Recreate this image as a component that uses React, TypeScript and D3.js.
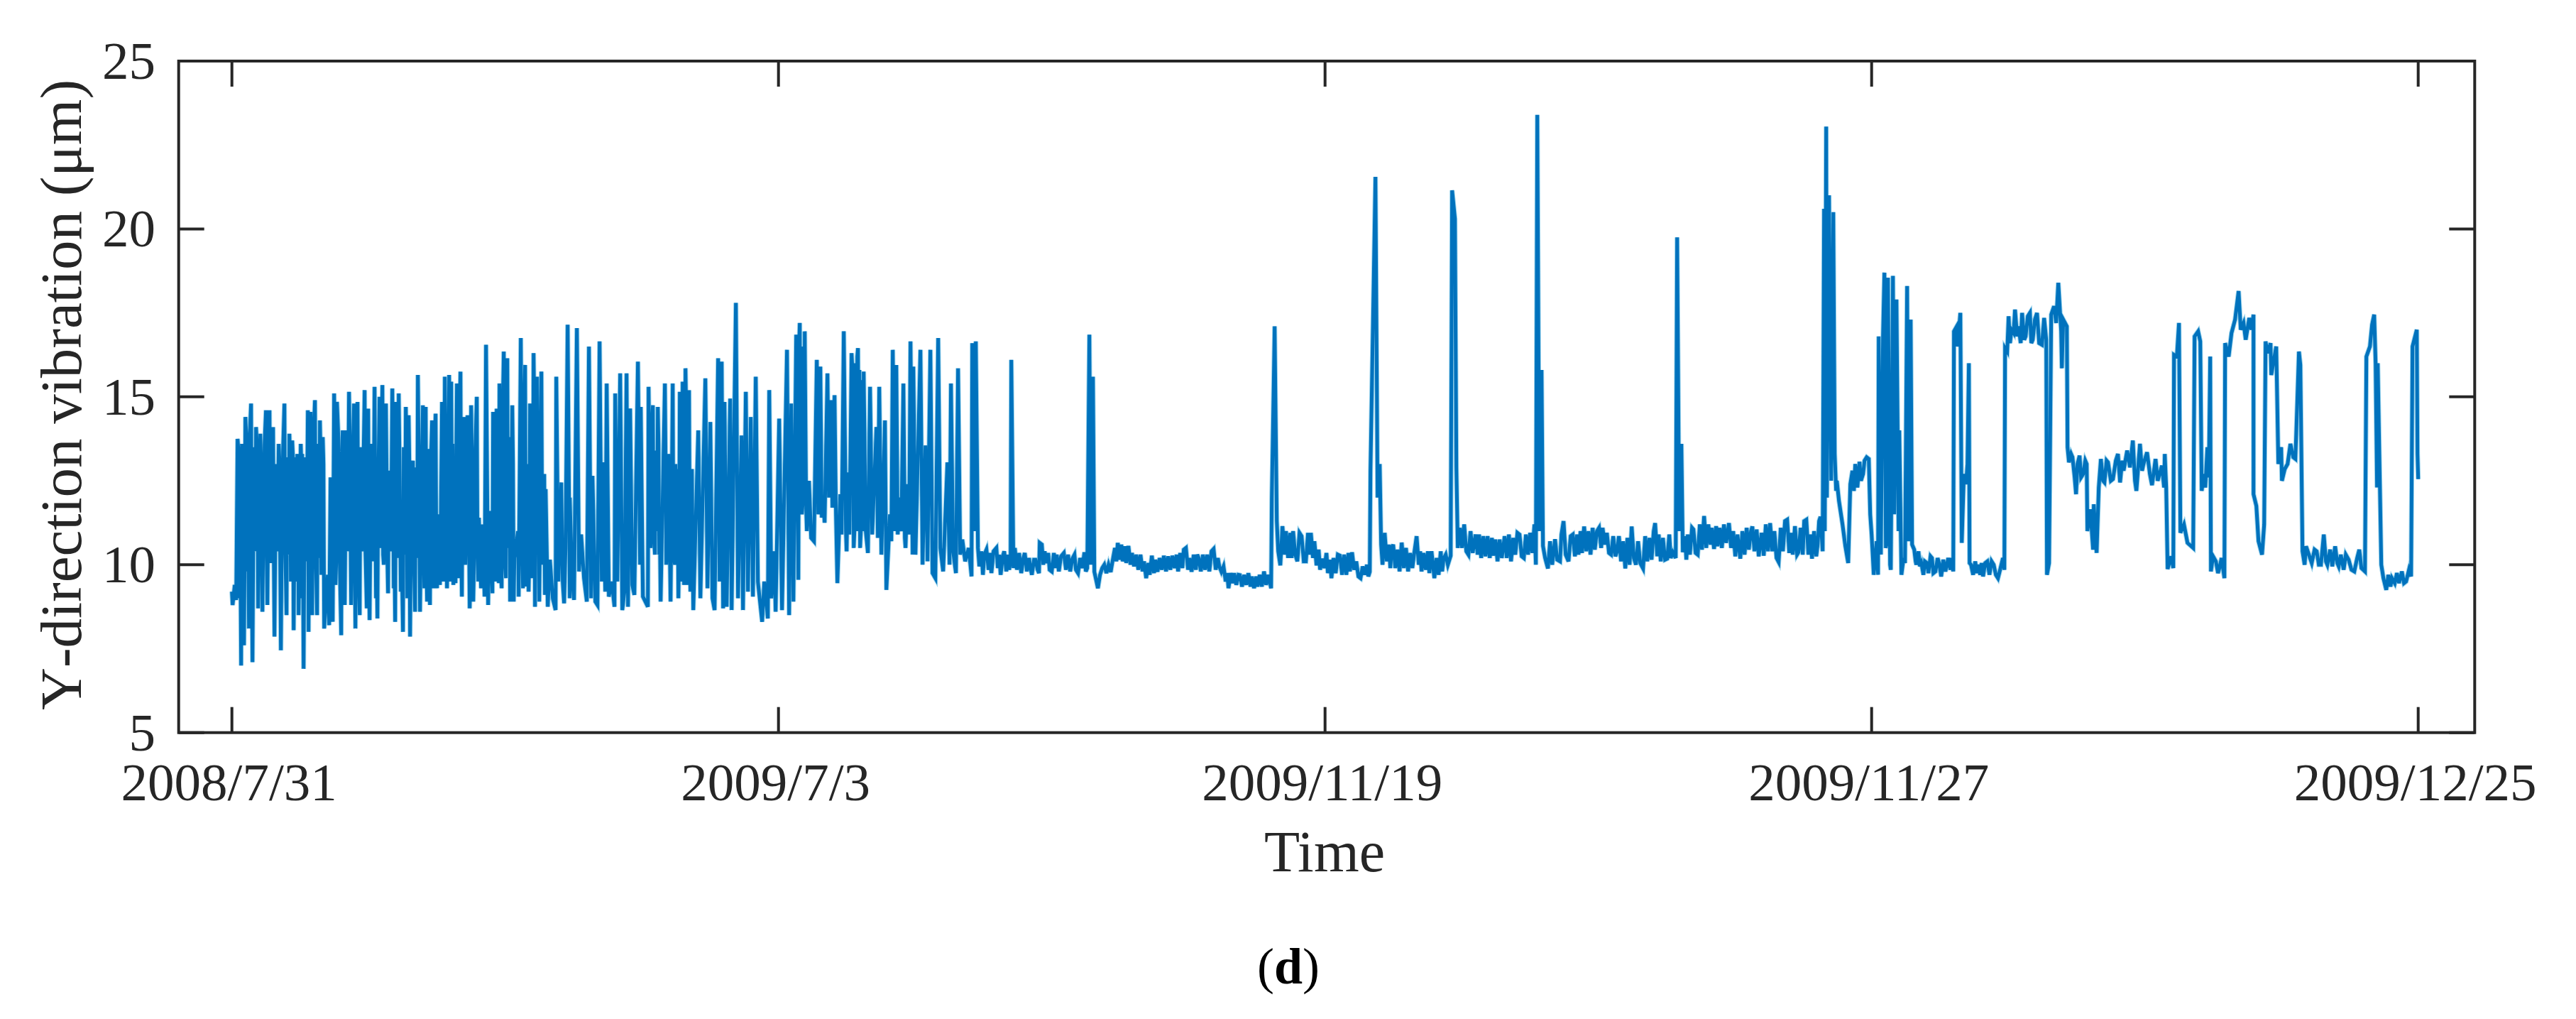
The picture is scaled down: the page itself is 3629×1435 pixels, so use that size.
import * as React from "react";
import { line, range, scaleLinear, sort } from "d3";

type P = [number, number];

// [sample, vibration in um]
const burstsEarly: P[] = [
  [0,9.2],[1,8.8],[4,9.4],[6,8.95],[8,13.75],[11,9],[13,7],[14,13.6],[17,7.6],[19,14.4],[22,9.8],[24,8.1],[27,14.8],[29,7.1],[34,14.1],[37,8.7],[40,13.9],[43,8.6],[48,14.6],[50,8.8],[53,14.6],[55,10.05],[58,14.1],[60,7.86],[66,13.6],[69,7.45],[74,14.8],[77,8.5],[81,13.9],[83,9.5],[85,13.7],[87,8.05],[90,13.2],[91,9.5],[92,13.3],[94,8.5],[97,13.6],[99,9],[99,13.3],[101,6.9],[107,14.6],[108,8],[111,14.55],[113,8.5],[117,14.9],[120,8.5],[124,14.3],[126,9.7],[128,13.8],[130,8.1],[135,9.7],[137,8.2],[139,12.6],[142,8.3],[144,15.1],[146,9.4],[148,14.85],[154,7.9],[156,14],[159,8.8],[165,15.15],[168,8.8],[172,14.8],[174,8.1],[177,14.85],[180,8.5],[187,15.2],[190,8.7],[192,14.65],[194,8.35],[201,15.3],[203,9],[205,8.4],[208,15],[212,15.35],[214,10],[217,14.8],[220,9.15],[226,15.25],[228,9.3],[230,8.3],[231,14.85],[235,15.1],[238,9.2],[241,8],[245,14.7],[247,9],[249,14.45],[251,7.86],[255,13.1],[258,8.6],[262,15.65],[265,8.6],[269,14.75],[271,9.3],[273,14.7],[275,8.9],[277,13.45],[279,8.8],[282,14.3],[284,9.3],[287,14.5],[289,9.3],[292,10.65],[293,9.4],[296,14.85],[298,9.5],[300,15.6],[303,9.3],[306,15.65],[308,9.5],[309,15.45],[312,9.4],[313,10.65],[315,9.45],[317,15.4],[319,9.6],[322,15.75],[324,9.05],[327,14.4],[329,10],[332,14.45],[335,8.7],[337,14.75],[340,8.9],[345,15],[347,9.5],[348,11.4],[351,9.3],[353,11.2],[356,9.05],[358,16.55],[361,8.8],[363,11.6],[367,9.15],[368,14.55],[371,9.5],[373,14.65],[376,9.45],[377,15.4],[380,9.3],[383,16.35],[386,9.6],[388,16.15],[392,8.9],
];
const burstsMiddle: P[] = [
  [395,14.75],[397,8.9],[404,9.05],[407,16.75],[410,9.3],[413,15.95],[415,9.35],[418,9.2],[420,14.8],[423,9.6],[425,16.3],[427,8.75],[430,15.6],[433,8.9],[436,15.75],[438,10],[440,12.7],[441,9.1],[442,12.25],[445,8.75],[448,10.15],[452,9],[456,8.65],[457,15.6],[460,9.5],[464,12.45],[466,9.5],[468,8.85],[470,10.5],[473,17.15],[476,9],[476,12],[479,9.8],[482,8.95],[486,17.05],[489,9.8],[492,10.9],[496,9.6],[500,8.9],[503,16.5],[506,9],[508,12.65],[512,8.9],[515,8.8],[518,16.65],[521,9.5],[523,13.05],[526,9.2],[528,15.4],[531,9.05],[535,9.5],[539,8.75],[540,15.1],[543,9.5],[547,15.7],[550,8.65],[553,9.2],[556,15.7],[558,8.75],[561,14.65],[564,9.4],[567,9.1],[572,16.05],[575,10],[576,14.7],[579,9.05],[586,8.75],[587,15.3],[590,10.5],[593,14.75],[596,10.3],[600,14.7],[602,10.3],[604,8.9],[610,15.4],[612,10],[615,13.3],[618,8.9],[621,15.4],[624,10],[627,12.85],[629,9],[631,15.15],[633,9.5],[635,15.45],[637,9.4],[639,15.85],[641,9.4],[644,15.2],[646,9.2],[648,12.85],[650,8.65],[657,14],[660,9],[667,15.55],[670,9.3],[674,14.25],[677,9],[680,8.65],[685,16.15],[687,9.5],[690,16.05],[692,8.7],[694,14.85],[697,8.75],[702,14.95],[704,8.65],[710,17.8],[713,9],[718,13.85],[720,8.65],[724,15.15],[727,9.2],[731,14.4],[734,9.05],[738,15.6],[741,9.5],[747,8.3],[750,9.5],[755,8.4],[757,15.2],[760,9],[764,10.4],[766,8.6],[771,14.35],[775,8.65],
];
const burstsLate: P[] = [
  [782,16.4],[785,8.5],[788,14.8],[791,8.9],[795,16.85],[798,9.55],[800,17.2],[803,11.5],[807,16.95],[809,11.65],[810,11],[813,12.5],[816,10.8],[820,10.7],[824,16.1],[826,11.5],[829,15.9],[831,11.4],[833,12],[835,11.25],[839,15.7],[841,12],[844,14.9],[846,11.7],[849,15.05],[851,11.5],[853,9.45],[857,12.1],[859,10.9],[862,16.95],[865,11],[866,10.4],[868,12.75],[870,10.9],[873,16.3],[876,10.5],[882,16.45],[885,10.5],[890,15.75],[893,11],[896,10.35],[899,15.3],[902,10.9],[908,14.1],[910,10.8],[912,15.3],[915,10.3],[920,14.3],[922,9.25],[927,11.5],[929,10.7],[931,16.4],[934,11],[936,15.95],[938,10.9],[940,12],[943,11],[946,15.4],[948,10.8],[949,10.5],[952,12.4],[954,10.9],[956,16.65],[959,10.3],[960,15.9],[963,10.3],[970,16.4],[973,10],[977,13.55],[980,10.1],[984,16.4],[987,9.75],[991,9.6],[995,16.75],[998,10.5],[1002,9.8],[1008,13.05],[1011,10],[1013,15.4],[1016,10.4],[1020,9.75],[1023,15.85],[1026,10.3],[1029,10.75],[1033,10.1],[1038,10.5],[1042,9.65],[1043,16.6],[1046,11],[1048,16.65],[1051,10.5],[1053,9.95],
];
// swings inside the solid part of the bursts, between the peaks listed above
const burstsCore: P[] = [
  [10,13.2],[12,10.3],[15,13.4],[18,10.2],[21,13.6],[23,10.5],[25,13.8],[28,10.1],[31,13.5],[33,10.4],[36,13.3],[38,10.6],[41,13.2],[44,10.3],[46,13.6],[49,10.2],[52,13.7],[54,10.9],[56,13.4],[59,10.3],[62,13],[64,10.4],[67,13.1],[70,10],[72,13.4],[75,10.5],[78,13.2],[80,10.3],[82,13.1],[84,10.2],[86,13.2],[88,10.4],[93,12.8],[95,10.2],[98,12.9],[100,10.5],[103,13.2],[105,10.1],[109,13.4],[112,10.6],[115,13.8],[118,10.4],[121,13.6],[123,10.2],[125,13.2],[127,10.5],[129,13],
  [145,13.6],[147,10.1],[150,13.8],[152,10],[155,13.2],[158,10.2],[161,14],[163,10.4],[166,13.8],[169,10.3],[171,13.9],[173,10.6],[176,13.7],[178,10.2],[181,13.5],[183,10.4],[186,13.9],[188,10.5],[191,13.8],[193,10.3],[196,13.6],[199,10.1],[202,12],[204,10.2],[206,12.3],[209,10.5],[211,13.6],[213,10.3],[216,13.2],[219,10.2],[221,12.8],[224,10.4],[227,13.2],[229,10.4],[232,13.6],[234,10.2],[236,13.4],[239,10.5],[242,13.5],[244,10.3],[246,13.2],[248,10.4],[250,13],[252,10.2],[254,12.8],[256,10.5],[259,12.9],
  [261,10.2],[263,13.6],[266,10.3],[268,13.5],[270,10.5],[272,13.4],[274,10.2],[276,13],[278,10.1],[280,12.8],[283,10.4],[285,13.2],[288,10.3],[290,11.5],[294,10.6],[297,13.4],[299,10.5],[301,13.6],[304,10.2],[307,13.8],[310,10.5],[311,13.6],[314,10.3],[316,13],[318,10.5],[320,13.4],[323,10.6],[325,13],[328,10.2],[330,11],[333,13.2],[336,10.1],[338,13.4],[341,10],[343,13.5],[346,10.3],
  [362,10.2],[369,13.2],[372,10.4],[374,13.6],[378,10.2],[381,14],[384,10.3],[387,14.2],[389,10.5],[391,13.8],[393,10.2],[396,13],[398,10.2],[403,11],[406,14.2],[409,10.4],[411,14],[414,10.5],[416,13],[419,10.3],[422,13.9],[424,10.6],[426,14.6],[428,11],[429,14.4],[431,11],[432,13.8],[434,11],[435,14.2],[437,11],
  [591,13.8],[594,11],[597,13.4],[599,11],[601,13.6],[603,10.8],[611,13],[613,10.6],[620,13],[622,10.4],[625,13],[626,10.5],[628,12.5],[630,10.4],[632,14],[634,10.5],[636,14.4],[638,10.3],[640,14.5],[642,10.5],[643,14],[645,10.4],[647,12.6],
  [796,15.5],[797,11.8],[799,16.5],[801,11.8],[802,16.5],[804,11.8],[805,16.5],[806,12],[875,15.5],[877,11],[878,16],[880,11],[881,16.2],[883,11],[884,15.8],[886,11],[887,15.5],[889,11],
];
const quietFirst: P[] = [
  [1056,10.4],[1058,9.7],[1060,10.3],[1063,10.45],[1066,9.85],[1068,10.35],[1070,9.75],[1073,10.4],[1077,10.5],[1079,9.9],[1081,10.3],[1083,9.7],[1086,10.25],[1088,10.4],[1091,9.8],[1093,10.3],[1095,9.85],[1097,10.1],[1098,16.1],[1101,9.9],[1103,10.5],[1106,9.85],[1109,10.35],[1112,9.75],[1115,10.2],[1117,10.35],[1120,9.8],[1123,10.2],[1125,9.9],[1127,9.7],[1130,10.15],[1132,10.15],[1135,9.85],[1137,9.75],[1138,10.65],[1141,10.6],[1143,10],[1145,10.4],[1147,10.05],[1150,10.35],[1152,9.85],[1155,9.8],[1158,10.35],[1160,9.9],[1162,10.3],[1165,9.8],[1168,10.25],[1172,10.35],[1175,9.85],[1178,10.3],[1181,9.8],[1184,10.18],[1187,10.3],[1189,9.85],[1192,9.75],[1195,10.2],[1198,9.9],[1201,10.37],[1203,9.8],[1205,9.9],[1208,16.85],[1210,10],[1213,15.6],[1215,9.79],[1218,9.5],[1220,9.3],[1223,9.7],[1226,9.9],[1229,10],[1232,9.75],[1235,10],[1238,9.78],[1241,10.15],[1244,10.5],[1246,10.1],[1248,10.65],[1251,10.15],[1253,10.6],[1255,10.1],[1258,10.55],[1260,10.05],[1263,10.56],[1266,10],[1268,10.35],[1271,9.95],[1274,10.3],[1277,9.85],[1280,10.3],[1283,9.8],[1285,10.1],[1288,9.6],[1291,10.05],[1293,9.7],[1296,10.27],[1299,9.75],[1301,10.15],[1304,9.79],[1307,10.2],[1310,9.85],[1313,10.27],[1316,9.8],[1319,10.25],[1322,9.85],[1325,10.27],[1328,9.9],[1331,10.3],[1333,9.8],[1336,10.35],[1339,9.9],[1341,10.45],[1344,10.5],[1347,9.85],[1349,10.2],[1352,9.79],[1355,10.3],[1358,9.85],[1360,10.3],[1362,10.2],[1365,9.8],[1368,10.3],[1371,9.85],[1374,10.3],[1377,9.8],[1380,10.4],[1383,10.47],[1386,9.85],[1389,10.2],[1391,9.95],[1394,9.79],[1397,9.95],[1400,9.5],[1402,9.75],[1404,9.3],[1407,9.75],[1410,9.45],[1412,9.75],[1415,9.4],[1418,9.7],[1420,9.69],[1423,9.35],[1426,9.7],[1429,9.4],[1432,9.75],[1435,9.35],[1437,9.65],[1440,9.3],[1443,9.65],[1445,9.35],[1448,9.7],[1451,9.35],[1454,9.8],[1457,9.4],[1460,9.7],[1464,9.3],
];
const quietSecond: P[] = [
  [1465,12],[1469,17.1],[1472,11.3],[1474,10.4],[1477,9.98],[1480,11.15],[1483,10.3],[1485,11],[1488,10.2],[1491,10.95],[1493,10.2],[1495,11],[1498,10.3],[1501,10.1],[1504,10.95],[1507,10.85],[1510,10.1],[1513,10.1],[1516,10.95],[1518,10.3],[1520,10.95],[1523,10.2],[1525,10.7],[1528,9.98],[1531,10.45],[1533,9.85],[1536,10.18],[1539,9.9],[1542,10.35],[1544,9.75],[1547,10.15],[1549,9.6],[1552,10.2],[1555,9.75],[1558,10.3],[1561,10.27],[1564,9.7],[1567,10.3],[1570,9.7],[1573,10.35],[1575,9.8],[1578,10.37],[1581,9.85],[1584,10.1],[1587,9.65],[1590,9.6],[1593,9.95],[1596,9.7],[1599,10],[1601,9.65],[1603,9.79],
  [1604,12.8],[1611,21.55],[1614,12],[1617,13],[1619,10.6],[1621,10],[1624,10.95],[1627,10.1],[1630,10.6],[1632,9.9],[1634,10.5],[1636,10.6],[1639,9.9],[1642,10.45],[1645,9.8],[1648,10.66],[1651,9.9],[1654,10.5],[1657,9.8],[1660,10.35],[1663,9.9],[1666,10.4],[1669,10.85],[1672,10],[1674,10.4],[1676,9.8],[1679,10.35],[1682,9.85],[1685,10.4],[1687,9.75],[1690,10.4],[1694,9.6],[1697,10.2],[1700,9.7],[1703,10.4],[1705,9.8],[1707,10.18],[1710,10.3],[1713,10],[1717,10.27],
];
const quietThird: P[] = [
  [1719,21.15],[1723,20.3],[1725,12.9],[1727,10.5],[1730,11.1],[1733,10.5],[1736,11.2],[1739,10.4],[1742,10.3],[1745,11],[1748,10.35],[1752,10.9],[1755,10.3],[1757,10.9],[1760,10.2],[1763,10.85],[1766,10.25],[1769,10.85],[1772,10.2],[1775,10.8],[1777,10.27],[1780,10.75],[1783,10.1],[1786,10.75],[1789,10.2],[1793,10.85],[1796,10.2],[1799,10.9],[1802,10.1],[1805,10.8],[1808,10.3],[1811,10.95],[1814,10.9],[1817,10.25],[1820,10.2],[1823,10.9],[1826,10.3],[1829,10.95],[1832,10.35],[1835,11.2],[1837,10],[1839,23.4],[1842,11],[1845,15.8],[1847,10.56],[1850,10.2],[1854,9.89],[1857,10.7],[1860,10],[1864,10.76],[1867,10.15],[1871,10.1],[1873,10.9],[1876,11.3],[1879,10.3],[1883,10.1],[1886,10.85],[1889,10.9],[1892,10.25],[1895,10.9],[1897,10.3],[1900,11],[1902,10.35],[1905,11.14],[1908,10.4],[1911,11],[1914,10.3],[1917,11.1],[1920,10.45],[1923,11],[1926,11.1],[1929,10.5],[1931,11.1],[1934,10.6],[1937,10.95],[1940,10.35],[1943,10.3],[1946,10.85],[1949,10.25],[1951,10.37],[1954,10.85],[1957,10.1],[1960,10.7],[1963,9.89],[1966,10.8],[1969,10],[1972,11.14],[1975,10.2],[1978,10],[1981,10.7],[1984,10.05],[1988,9.89],[1991,10.85],[1994,10.1],[1997,10.8],[2000,10.15],[2003,11],[2005,11.24],[2008,10.25],[2010,10.9],[2013,10.1],[2016,10.8],[2019,10.15],[2022,10.18],[2025,10.9],[2027,10.2],[2030,10.37],[2034,10.2],
];
const quietLast: P[] = [
  [2036,19.75],[2039,11],[2042,13.6],[2044,10.37],[2047,10.85],[2049,10.15],[2051,10.9],[2054,10.3],[2057,11.1],[2059,11.05],[2062,10.35],[2065,10.3],[2068,11.2],[2071,10.45],[2074,11.45],[2077,10.5],[2080,11.2],[2083,10.6],[2085,11.1],[2088,10.47],[2091,11.15],[2093,10.55],[2096,11.1],[2099,10.5],[2102,11.2],[2105,10.65],[2109,11.24],[2112,10.5],[2115,11],[2118,10.25],[2121,10.9],[2125,10.18],[2128,11],[2131,10.3],[2134,11.1],[2137,10.45],[2140,11],[2142,11.14],[2145,10.4],[2148,11.05],[2151,10.25],[2155,10.95],[2158,10.27],[2161,11.2],[2164,10.4],[2167,11.24],[2170,10.4],[2173,11],[2176,10.2],[2179,10.08],[2182,11.1],[2185,10.4],[2188,11.3],[2191,11.34],[2194,10.35],[2197,10.95],[2199,10.3],[2202,11.15],[2205,10.3],[2207,10.37],[2210,11.1],[2213,10.3],[2215,11.3],[2218,11.34],[2221,10.3],[2224,10.9],[2226,10.18],[2229,11],[2232,10.25],[2234,10.6],[2236,11.3],[2238,11.43],[2241,10.4],
];
const stepsFirst: P[] = [
  [2243,20.6],[2244,11],[2246,23.05],[2247,12],[2250,21],[2253,12.5],[2256,20.5],[2258,13.3],[2260,12.2],[2261,12.5],[2264,11.9],[2269,11.2],[2273,10.55],[2277,10.05],[2280,12.4],[2283,12.8],[2285,12.2],[2287,13],[2290,12.3],[2293,13.07],[2295,12.5],[2298,12.7],[2300,13.1],[2303,13.2],[2306,13.15],[2308,11.5],[2310,10.9],[2313,9.7],[2317,10.7],[2319,9.7],[2320,16.8],[2323,10.3],[2326,16.8],[2328,18.7],[2330,10.5],[2332,10.7],[2333,18.55],[2336,10],[2337,9.85],[2340,18.6],[2342,11.5],[2345,17.9],[2348,11],[2349,14],[2352,9.7],[2355,10.2],[2357,10.05],[2360,18.3],[2362,10.7],[2365,17.3],[2367,10.6],[2370,10.45],[2372,10.1],[2373,10],[2376,10.4],[2378,9.95],[2380,10.05],[2383,9.7],[2385,10.1],[2388,10.05],[2390,9.75],[2393,10.25],[2395,10.2],[2397,9.75],[2400,9.8],[2403,10.2],[2405,10.05],[2408,9.65],[2411,10.15],[2414,9.8],[2418,10.2],[2421,9.85],[2423,10.2],[2425,9.8],[2426,16.95],[2430,17.1],[2431,16.5],[2435,17.5],[2437,10.65],[2440,12.7],[2443,12.4],[2445,13],[2447,16],[2448,10.05],[2450,10],[2453,9.7],[2456,10.1],[2458,9.75],[2460,10],[2463,9.7],[2465,10.05],[2467,9.65],[2470,10.05],[2473,10.1],[2476,9.7],[2479,10.1],[2482,10],[2485,9.7],[2488,9.6],[2491,9.85],[2495,10.2],[2497,9.85],[2498,16.45],[2501,16.35],[2503,17.4],[2505,16.6],[2507,17],[2510,16.9],[2512,17.6],[2515,16.8],[2517,17.1],[2520,16.6],[2522,17.5],[2525,16.7],[2527,16.8],[2530,17.4],[2533,17.5],[2535,16.6],[2537,16.7],[2540,17.3],[2543,17.5],[2546,16.6],[2550,16.55],[2553,17.35],[2556,16.7],[2557,9.7],[2560,10.05],[2563,17.45],[2567,17.7],[2570,17.2],[2573,18.4],[2577,16.95],[2578,15.85],[2580,17.3],[2585,17.1],[2586,13.5],[2588,13.05],[2591,13.3],[2593,13.2],[2596,12.6],[2598,12.1],[2600,13],[2603,13.25],[2605,12.6],[2608,12.7],[2611,13.1],[2613,13],[2614,11],[2618,11.65],[2622,10.45],[2623,11.8],[2627,10.35],[2630,12.3],[2633,13.15],[2636,12.5],[2638,12.45],[2641,13.1],[2643,13.05],[2647,12.5],[2650,12.55],[2654,13.1],[2657,13.3],[2660,12.45],[2663,13.1],[2665,12.8],[2670,13.4],
];
const stepsLast: P[] = [
  [2674,12.9],[2678,13.7],[2681,12.5],[2683,12.2],[2688,13.6],[2691,12.8],[2693,13],[2698,13.35],[2702,12.7],[2705,12.37],[2710,13.15],[2713,12.5],[2715,12.65],[2719,12.95],[2722,12.3],[2723,13.3],[2725,12.3],[2727,9.87],[2732,10.25],[2735,9.9],[2736,16.25],[2740,16.2],[2743,17.2],[2745,10.95],[2750,11.2],[2755,10.65],[2763,10.5],[2765,16.8],[2770,16.95],[2773,16.65],[2775,12.2],[2778,12.7],[2780,12.3],[2783,13.5],[2785,12.6],[2787,16.2],[2788,9.8],[2791,10.25],[2795,10.1],[2798,9.75],[2800,9.9],[2803,10.2],[2807,9.6],[2808,16.6],[2813,16.2],[2817,16.9],[2822,17.3],[2827,18.15],[2830,17],[2834,17.2],[2837,16.7],[2842,17.35],[2845,17],[2848,17.45],[2848,12.1],[2852,11.75],[2855,10.7],[2860,10.3],[2863,11.2],[2865,16.65],[2868,16.3],[2872,16.6],[2873,15.65],[2880,16.5],[2883,13],[2887,13.5],[2888,12.5],[2892,12.85],[2896,13],[2900,13.6],[2904,13.2],[2907,13.15],[2912,16.35],[2914,15.95],[2917,10.4],[2920,10],[2922,10.55],[2926,10.3],[2930,10.05],[2934,10.45],[2937,10.4],[2940,10],[2943,10],[2947,10.9],[2950,10.1],[2952,10],[2956,10.45],[2959,9.95],[2963,10.55],[2966,10.05],[2968,9.95],[2971,10.3],[2975,9.85],[2978,10.3],[2982,10.15],[2986,9.85],[2990,9.8],[2994,10.2],[2997,10.45],[3000,9.9],[3005,9.8],[3007,16.2],[3012,16.5],[3015,17.15],[3018,17.45],[3020,16],[3022,12.3],[3023,16],[3028,10],[3031,9.6],[3035,9.25],[3038,9.7],[3041,9.35],[3043,9.6],[3047,9.45],[3050,9.75],[3053,9.45],[3057,9.8],[3060,9.45],[3063,9.5],[3067,9.85],[3070,9.65],[3072,16.5],[3078,17],[3079,13.3],[3080,12.55],
];

const series = sort(
  [...burstsEarly, ...burstsCore, ...burstsMiddle, ...burstsLate, ...quietFirst, ...quietSecond, ...quietThird, ...quietLast, ...stepsFirst, ...stepsLast],
  (a, b) => a[0] - b[0],
);

const xTickSamples = [0, 770, 1540, 2310, 3080];
const xTickLabels = ["2008/7/31", "2009/7/3", "2009/11/19", "2009/11/27", "2009/12/25"];
const yTicks = range(5, 26, 5);

const left = 251.7, right = 3486.3, top = 86, bottom = 1031.7;
const tickLen = 36;
const ink = "#262626";
const font = "'Liberation Serif', 'Times New Roman', serif";

const App = () => {
  const x = scaleLinear().domain([-75, 3159.6]).range([left, right]);
  const y = scaleLinear().domain([5, 25]).range([bottom, top]);
  const path = line<P>().x((d) => x(d[0])).y((d) => y(d[1]))(series) as string;

  return (
    <svg width={3629} height={1435} style={{ position: "absolute", left: 0, top: 0, background: "#fff" }} fontFamily={font}>
      <defs>
        <filter id="soft" x="-2%" y="-2%" width="104%" height="104%">
          <feGaussianBlur stdDeviation="0.7" />
        </filter>
      </defs>
      <g filter="url(#soft)">
        <path d={path} fill="none" stroke="#0090d0" strokeOpacity={0.4} strokeWidth={7} />
        <path d={path} fill="none" stroke="#0072BD" strokeWidth={5} />
        <rect x={left} y={top} width={right - left} height={bottom - top} fill="none" stroke={ink} strokeWidth={4} />
        {xTickSamples.map((t) => (
          <g key={t} stroke={ink} strokeWidth={4}>
            <line x1={x(t)} x2={x(t)} y1={bottom} y2={bottom - tickLen} />
            <line x1={x(t)} x2={x(t)} y1={top} y2={top + tickLen} />
          </g>
        ))}
        {yTicks.map((t) => (
          <g key={t} stroke={ink} strokeWidth={4}>
            <line x1={left} x2={left + tickLen} y1={y(t)} y2={y(t)} />
            <line x1={right} x2={right - tickLen} y1={y(t)} y2={y(t)} />
          </g>
        ))}
      </g>
      <g fill={ink} fontSize={75}>
        {xTickSamples.map((t, i) => (
          <text key={t} x={x(t) - 4} y={1127} textAnchor="middle">{xTickLabels[i]}</text>
        ))}
        {yTicks.map((t) => (
          <text key={t} x={219} y={y(t) + 25} textAnchor="end">{t}</text>
        ))}
      </g>
      <text x={1866} y={1227} textAnchor="middle" fontSize={82} fill={ink}>Time</text>
      <text transform="translate(114,556) rotate(-90)" textAnchor="middle" fontSize={83} fill={ink} style={{ fontKerning: "none" }}>Y-direction vibration (μm)</text>
      <text x={1815} y={1385} textAnchor="middle" fontSize={72} fill="#000">(<tspan fontWeight="bold">d</tspan>)</text>
    </svg>
  );
};

export default App;
